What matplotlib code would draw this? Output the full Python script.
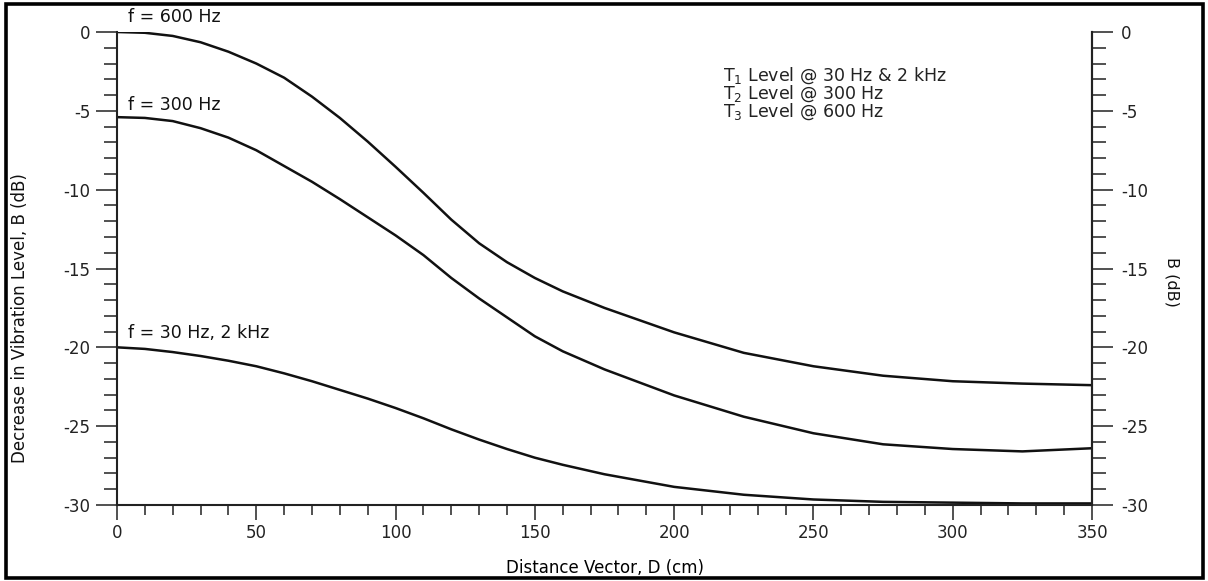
import matplotlib
matplotlib.use('Agg')
import matplotlib.pyplot as plt
from matplotlib.patches import Rectangle
from matplotlib.ticker import MultipleLocator

plt.rcParams['font.family'] = ['DejaVu Sans']
plt.rcParams['mathtext.default'] = 'regular'

# distance (cm) and decrease in level (dB)
dist = [0, 10, 20, 30, 40, 50, 60, 70, 80, 90, 100, 110, 120, 130, 140,
        150, 160, 175, 200, 225, 250, 275, 300, 325, 350]
b_600 = [0, -0.05, -0.25, -0.65, -1.25, -2.0, -2.9, -4.1, -5.45, -6.95, -8.55,
         -10.2, -11.9, -13.4, -14.6, -15.6, -16.45, -17.5, -19.05, -20.35,
         -21.2, -21.8, -22.15, -22.3, -22.4]
b_300 = [-5.4, -5.45, -5.65, -6.1, -6.7, -7.5, -8.5, -9.5, -10.6, -11.75, -12.9,
         -14.15, -15.6, -16.9, -18.1, -19.3, -20.25, -21.4, -23.05, -24.4,
         -25.45, -26.15, -26.45, -26.6, -26.4]
b_30 = [-20.0, -20.1, -20.3, -20.55, -20.85, -21.2, -21.65, -22.15, -22.7,
        -23.25, -23.85, -24.5, -25.2, -25.85, -26.45, -27.0, -27.45, -28.05,
        -28.85, -29.35, -29.65, -29.8, -29.85, -29.9, -29.9]

curve_labels = ['f = 600 Hz', 'f = 300 Hz', 'f = 30 Hz, 2 kHz']
curve_label_y = [0.95, -4.6, -19.1]
notes = [r'$T_1$ Level @ 30 Hz & 2 kHz',
         r'$T_2$ Level @ 300 Hz',
         r'$T_3$ Level @ 600 Hz']
notes_y = [-2.75, -3.9, -5.05]
yticks = [0, -5, -10, -15, -20, -25, -30]
ytick_labels = ['0', '-5', '-10', '-15', '-20', '-25', '-30']

fig = plt.figure(figsize=(12.08, 5.81), dpi=100)
ax = fig.add_axes([117 / 1208, 1 - 505 / 581, (1092 - 117) / 1208, (505 - 32) / 581])

for b in (b_600, b_300, b_30):
    ax.plot(dist, b, color='#111111', lw=1.8, solid_capstyle='round')

ax.set_xlim(0, 350)
ax.set_ylim(-30, 0)
ax.spines['top'].set_visible(False)
for s in ('left', 'bottom', 'right'):
    ax.spines[s].set_linewidth(1.5)
    ax.spines[s].set_color('#222222')

ax.xaxis.set_major_locator(MultipleLocator(50))
ax.xaxis.set_minor_locator(MultipleLocator(10))
ax.yaxis.set_minor_locator(MultipleLocator(1))
ax.set_yticks(yticks)
ax.set_yticklabels(ytick_labels)
ax.tick_params(axis='y', which='major', direction='out', length=15, width=1.1,
               pad=4, labelsize=12, colors='#222222')
ax.tick_params(axis='y', which='minor', direction='out', length=9.5, width=1.1,
               colors='#222222')
ax.tick_params(axis='x', which='major', direction='out', length=11, width=1.1,
               pad=3, labelsize=12, colors='#222222')
ax.tick_params(axis='x', which='minor', direction='out', length=7, width=1.1,
               colors='#222222')

ax2 = ax.twinx()
ax2.set_ylim(-30, 0)
ax2.yaxis.set_minor_locator(MultipleLocator(1))
ax2.set_yticks(yticks)
ax2.set_yticklabels(ytick_labels)
for s in ('top', 'left', 'bottom'):
    ax2.spines[s].set_visible(False)
ax2.spines['right'].set_linewidth(1.5)
ax2.spines['right'].set_color('#222222')
ax2.tick_params(axis='y', which='major', direction='out', length=15, width=1.1,
                pad=6, labelsize=12, colors='#222222')
ax2.tick_params(axis='y', which='minor', direction='out', length=10, width=1.1,
                colors='#222222')

ax.set_xlabel('Distance Vector, D (cm)', fontsize=12, labelpad=12)
fig.text(20 / 1208, 1 - 318 / 581, 'Decrease in Vibration Level, B (dB)',
         fontsize=12, rotation=90, ha='center', va='center', color='#111111')
fig.text(1172 / 1208, 1 - 282 / 581, 'B (dB)', fontsize=11.5, rotation=270,
         ha='center', va='center', color='#111111')

for lab, y in zip(curve_labels, curve_label_y):
    ax.text(4, y, lab, fontsize=12.5, va='center', ha='left', color='#111111')

for note, y in zip(notes, notes_y):
    ax.text(217.5, y, note, fontsize=12.5, va='center', ha='left', color='#222222')

fig.patches.append(Rectangle((6 / 1208, 3 / 581), 1197 / 1208, 574 / 581,
                             transform=fig.transFigure, fill=False,
                             edgecolor='black', linewidth=2.6))

fig.savefig('out.png', dpi=100)
